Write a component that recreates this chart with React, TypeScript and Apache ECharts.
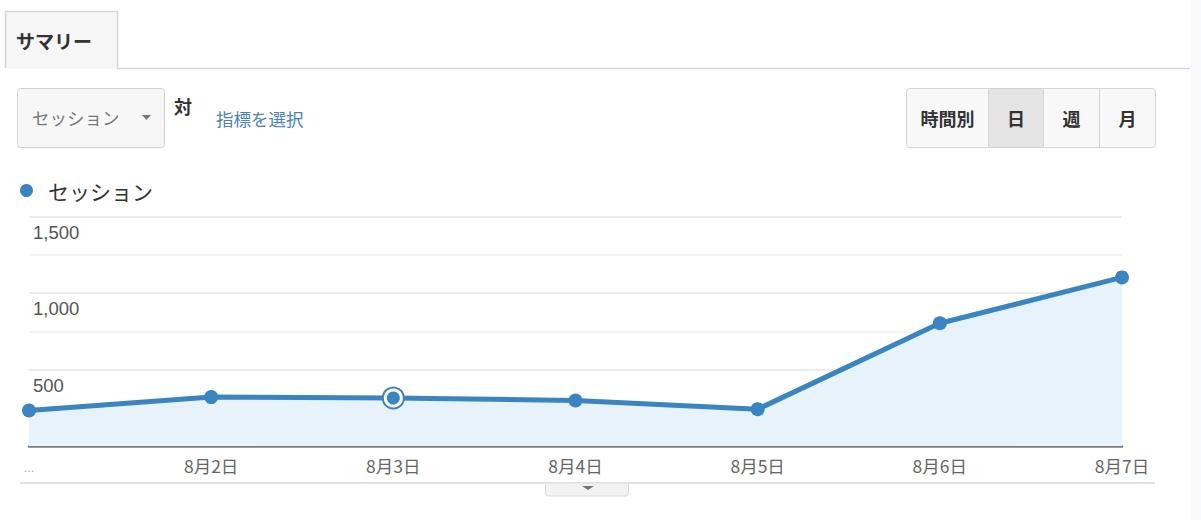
import React, { useEffect, useRef } from "react";
import * as echarts from "echarts";

const categories = ["...", "8月2日", "8月3日", "8月4日", "8月5日", "8月6日", "8月7日"];
const sessions = [232, 320, 314, 298, 241, 803, 1103];
const highlightIndex = 2;
const yMin = 0;
const yMax = 1500;
const yInterval = 250;
const yLabelStep = 500;
const seriesName = "セッション";
const tabLabel = "サマリー";
const metricLabel = "セッション";
const vsLabel = "対";
const pickLabel = "指標を選択";
const periodButtons = ["時間別", "日", "週", "月"];
const selectedPeriod = "日";

const JP = '"Noto Sans CJK JP", "Noto Sans", sans-serif';
const NUM = '"Liberation Sans", Arial, sans-serif';
const BLUE = "#3a84c2";

export default function App() {
  const ref = useRef<HTMLDivElement>(null);
  useEffect(() => {
    document.body.style.margin = "0";
    const chart = echarts.init(ref.current!, null, { renderer: "svg" });

    const btnX = [906.5, 988.5, 1043.5, 1099.5, 1155.5];
    const buttons: any[] = [];
    periodButtons.forEach((label, i) => {
      const sel = label === selectedPeriod;
      buttons.push({
        type: "rect",
        shape: { x: btnX[i], y: 88.5, width: btnX[i + 1] - btnX[i], height: 59, r: i === 0 ? [3, 0, 0, 3] : i === periodButtons.length - 1 ? [0, 3, 3, 0] : 0 },
        style: { fill: sel ? "#e4e4e4" : "#f8f8f8", stroke: "#d4d4d4", lineWidth: 1 },
      });
      buttons.push({
        type: "text",
        x: (btnX[i] + btnX[i + 1]) / 2,
        y: 118,
        style: { text: label, font: `bold 18px ${JP}`, fill: "#333", align: "center", verticalAlign: "middle" },
      });
    });

    chart.setOption({
      animation: false,
      backgroundColor: "#fff",
      textStyle: { fontFamily: JP },
      legend: {
        data: [seriesName],
        left: 15,
        top: 175,
        icon: "circle",
        itemWidth: 13,
        itemHeight: 13,
        textStyle: { fontSize: 21, color: "#333", fontFamily: JP, padding: [0, 0, 0, 10] },
      },
      grid: { left: 29, right: 79, top: 216.7, bottom: 74 },
      xAxis: {
        type: "category",
        data: categories,
        boundaryGap: false,
        axisLine: { lineStyle: { color: "#7c7c7c", width: 2.5 } },
        axisTick: { show: false },
        axisLabel: {
          interval: 0,
          margin: 11,
          fontSize: 17.5,
          color: "#666",
          fontFamily: JP,
          formatter: (v: string, i: number) => (i === 0 ? "{dots|" + v + "}" : v),
          rich: { dots: { color: "#aaa", fontSize: 13, fontFamily: NUM, padding: [4, 0, 0, 0] } },
        },
        splitLine: { show: false },
      },
      yAxis: {
        type: "value",
        min: yMin,
        max: yMax,
        interval: yInterval,
        axisLine: { show: false },
        axisTick: { show: false },
        axisLabel: {
          inside: true,
          margin: 4,
          fontSize: 18.5,
          color: "#555",
          fontFamily: NUM,
          verticalAlign: "top",
          padding: [6, 0, 0, 0],
          formatter: (v: number) => (v === 0 || v % yLabelStep !== 0 ? "" : v.toLocaleString("en-US")),
        },
        splitLine: { lineStyle: { color: ["#e6e6e6", "#f1f1f1"], width: 1.5 } },
      },
      series: [
        {
          name: seriesName,
          type: "line",
          data: sessions,
          symbol: "circle",
          symbolSize: 14,
          showSymbol: true,
          lineStyle: { color: BLUE, width: 5 },
          itemStyle: { color: BLUE },
          areaStyle: { color: "#e8f2fa", opacity: 1 },
          z: 3,
        },
        {
          name: "hl-ring",
          type: "scatter",
          data: [[highlightIndex, sessions[highlightIndex]]],
          symbol: "circle",
          symbolSize: 21,
          itemStyle: { color: "#fff", borderColor: BLUE, borderWidth: 2, opacity: 1 },
          z: 5,
          silent: true,
        },
        {
          name: "hl-dot",
          type: "scatter",
          data: [[highlightIndex, sessions[highlightIndex]]],
          symbol: "circle",
          symbolSize: 13,
          itemStyle: { color: BLUE, opacity: 1 },
          z: 6,
          silent: true,
        },
      ],
      graphic: [
        { type: "rect", shape: { x: 1191, y: 0, width: 10, height: 520 }, style: { fill: "#f8f9fb" } },
        { type: "rect", shape: { x: 5.5, y: 11.5, width: 112, height: 57 }, style: { fill: "#f6f6f6" } },
        { type: "polyline", shape: { points: [[5.5, 68], [5.5, 11.5], [117.5, 11.5], [117.5, 68.5], [1190, 68.5]] }, style: { stroke: "#d6d6d6", lineWidth: 1.5, fill: null } },
        { type: "text", x: 16, y: 40, style: { text: tabLabel, font: `bold 19px ${JP}`, fill: "#333", verticalAlign: "middle" } },
        { type: "rect", shape: { x: 17.5, y: 88.5, width: 147, height: 59, r: 3 }, style: { fill: "#f7f7f7", stroke: "#d2d2d2", lineWidth: 1 } },
        { type: "text", x: 32, y: 117, style: { text: metricLabel, font: `17.5px ${JP}`, fill: "#777", verticalAlign: "middle" } },
        { type: "polygon", shape: { points: [[142, 115], [151, 115], [146.5, 120]] }, style: { fill: "#777" } },
        { type: "text", x: 174, y: 106, style: { text: vsLabel, font: `bold 18px ${JP}`, fill: "#333", verticalAlign: "middle" } },
        { type: "text", x: 216, y: 118, style: { text: pickLabel, font: `17.5px ${JP}`, fill: "#4a82bd", verticalAlign: "middle" } },
        ...buttons,
        { type: "line", shape: { x1: 20, y1: 483, x2: 1155, y2: 483 }, style: { stroke: "#e2e2e2", lineWidth: 2 } },
        { type: "rect", shape: { x: 545.5, y: 483, width: 83, height: 13, r: [0, 0, 3, 3] }, style: { fill: "#f2f2f2", stroke: "#dcdcdc", lineWidth: 1 } },
        { type: "polygon", shape: { points: [[582, 486], [594, 486], [588, 490]] }, style: { fill: "#777" } },
      ],
    });
    return () => chart.dispose();
  }, []);
  return <div ref={ref} style={{ position: "fixed", left: 0, top: 0, width: 1201, height: 520 }} />;
}
